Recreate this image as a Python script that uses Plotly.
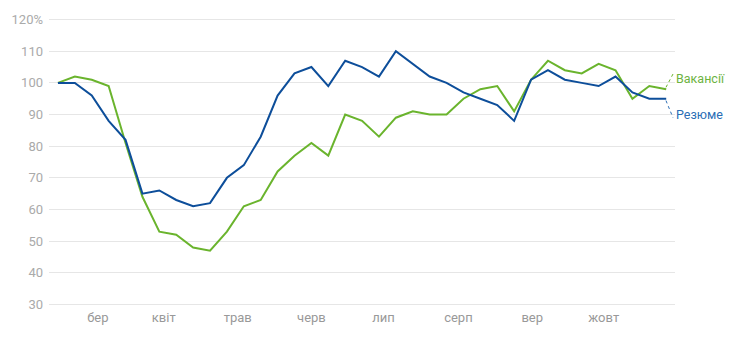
import plotly.graph_objects as go

weeks = list(range(37))
vacancies = [100, 102, 101, 99, 81, 64, 53, 52, 48, 47, 53, 61, 63, 72, 77, 81, 77, 90, 88, 83,
             89, 91, 90, 90, 95, 98, 99, 91, 101, 107, 104, 103, 106, 104, 95, 99, 98]
resumes = [100, 100, 96, 88, 82, 65, 66, 63, 61, 62, 70, 74, 83, 96, 103, 105, 99, 107, 105, 102,
           110, 106, 102, 100, 97, 95, 93, 88, 101, 104, 101, 100, 99, 102, 97, 95, 95]
month_pos = [2.36, 6.26, 10.64, 15.0, 19.27, 23.7, 28.07, 32.3]
month_labels = ["бер", "квіт", "трав", "черв", "лип", "серп", "вер", "жовт"]
y_ticks = [30, 40, 50, 60, 70, 80, 90, 100, 110, 120]
y_labels = ["30", "40", "50", "60", "70", "80", "90", "100", "110", "120%"]

GREEN = "#6ab42d"
BLUE = "#0d4e9a"

fig = go.Figure()
fig.add_trace(go.Scatter(x=weeks, y=vacancies, mode="lines", line=dict(color=GREEN, width=2),
                         name="Вакансії", hoverinfo="skip"))
fig.add_trace(go.Scatter(x=weeks, y=resumes, mode="lines", line=dict(color=BLUE, width=2),
                         name="Резюме", hoverinfo="skip"))

x_last = 0.9856
x_end = 0.9968
fig.add_shape(type="line", xref="paper", yref="y", x0=x_last, y0=vacancies[-1] + 0.6,
              x1=x_end, y1=102.8, line=dict(color=GREEN, width=1, dash="dot"))
fig.add_shape(type="line", xref="paper", yref="y", x0=x_last, y0=resumes[-1] - 0.6,
              x1=x_end, y1=89.0, line=dict(color="#2a6db5", width=1, dash="dot"))
fig.add_annotation(xref="paper", yref="y", x=0.998, y=101.4, text="Вакансії", showarrow=False,
                   xanchor="left", yanchor="middle", font=dict(color="#6db33f", size=12.5))
fig.add_annotation(xref="paper", yref="y", x=0.998, y=90.0, text="Резюме", showarrow=False,
                   xanchor="left", yanchor="middle", font=dict(color="#2a6db5", size=12.5))

fig.update_layout(
    width=740, height=339,
    margin=dict(l=48, r=65, t=13, b=33),
    paper_bgcolor="white", plot_bgcolor="white",
    showlegend=False,
    font=dict(family="Roboto, Liberation Sans, sans-serif", size=13, color="#a0a0a0"),
    xaxis=dict(range=[-0.53, 36.52], tickvals=month_pos, ticktext=month_labels,
               showgrid=False, zeroline=False, showline=False, ticks="",
               ticklabelstandoff=2,
               tickfont=dict(color="#999999", size=13)),
    yaxis=dict(range=[29.5, 120.5], tickvals=y_ticks, ticktext=y_labels,
               showgrid=True, gridcolor="#e6e6e6", gridwidth=1, zeroline=False,
               showline=False, ticks="", ticklabelstandoff=5,
               tickfont=dict(color="#aaaaaa", size=13)),
)

fig.write_html("out.html")
